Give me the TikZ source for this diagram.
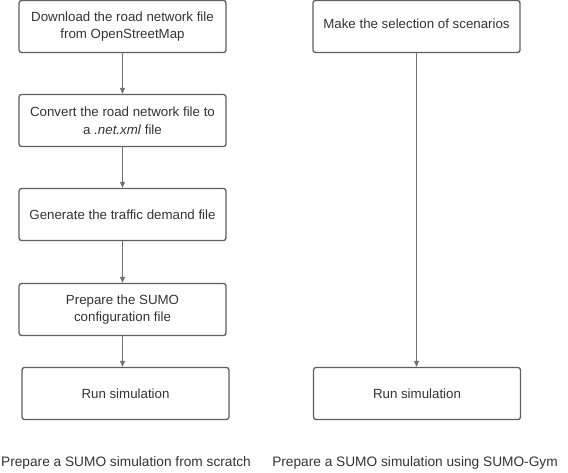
\documentclass[tikz,border=0pt]{standalone}
\usepackage{fontspec}
\setmainfont{Liberation Sans}
\usetikzlibrary{arrows.meta}
\definecolor{boxline}{HTML}{5E5E5E}
\definecolor{arrline}{HTML}{707070}
\definecolor{txt}{HTML}{333333}
\tikzset{
  stepbox/.style={draw=boxline, line width=1.3pt, rounded corners=2.5pt, minimum width=207pt, minimum height=52pt, align=center, text=txt, font=\fontsize{13.3}{17.5}\selectfont, inner sep=0pt},
  flow/.style={draw=arrline, line width=1pt, -{Triangle[length=6pt,width=5pt]}},
  caption/.style={text=txt, font=\fontsize{13.7}{15}\selectfont, inner sep=0pt}
}
\begin{document}
\begin{tikzpicture}[x=1pt,y=-1pt]
\useasboundingbox (0,0) rectangle (568,472);
\node[stepbox] (a1) at (122.5,26.5) {Download the road network file\\from OpenStreetMap};
\node[stepbox] (a2) at (122.5,120.5) {Convert the road network file to\\a \textit{.net.xml} file};
\node[stepbox] (a3) at (122.5,214.5) {Generate the traffic demand file};
\node[stepbox] (a4) at (122.5,309.5) {Prepare the SUMO\\configuration file};
\node[stepbox] (a5) at (125.5,393.5) {Run simulation};
\node[stepbox, text depth=5pt] (b1) at (416.5,26.5) {Make the selection of scenarios};
\node[stepbox] (b2) at (417,393.5) {Run simulation};
\draw[flow] (a1.south) -- (a2.north);
\draw[flow] (a2.south) -- (a3.north);
\draw[flow] (a3.south) -- (a4.north);
\draw[flow] (a4.south) -- (a4.south |- a5.north);
\draw[flow] (b1.south) -- (b1.south |- b2.north);
\node[caption] (c1) at (126,463) {Prepare a SUMO simulation from scratch};
\node[caption] (c2) at (415,463) {Prepare a SUMO simulation using SUMO-Gym};
\end{tikzpicture}
\end{document}
